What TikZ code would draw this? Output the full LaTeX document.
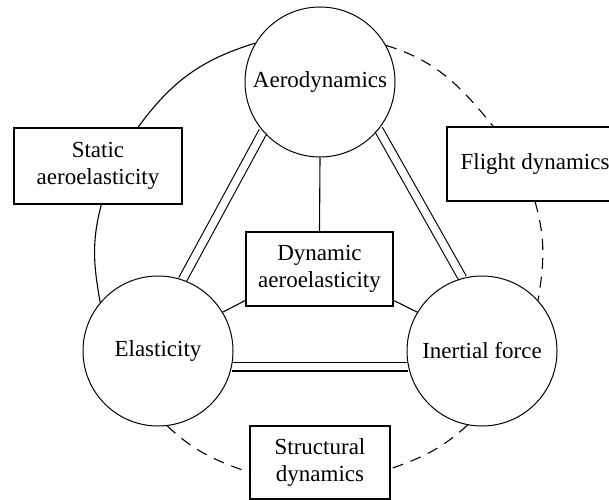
\documentclass[tikz,border=0pt]{standalone}
\usepackage{fontspec}
\setmainfont{Liberation Serif}
\usetikzlibrary{backgrounds}
\begin{document}
\begin{tikzpicture}[x=1pt,y=1pt,
  every node/.style={font=\fontsize{23}{27}\selectfont},
  ball/.style={circle, draw, line width=1pt, minimum size=150pt, inner sep=0pt},
  topic/.style={rectangle, draw, line width=1.1pt, align=center, inner sep=0pt},
  link/.style={line width=1.1pt},
  dlink/.style={line width=1.1pt, double, double distance=7.5pt},
  dashlink/.style={line width=1.1pt, dash pattern=on 11pt off 8pt}]
\useasboundingbox (0,0) rectangle (609,499);
\clip (0,0) rectangle (609,499);

\node[ball] (aero) at (320,417) {Aerodynamics};
\node[ball] (elast) at (158,148) {Elasticity};
\node[ball] (inert) at (482,148) {Inertial force};
\node[topic, minimum width=168pt, minimum height=76pt] (static) at (98,333) {Static\\aeroelasticity};
\node[topic, minimum width=176pt, minimum height=74pt] (flight) at (535,335) {Flight dynamics};
\node[topic, minimum width=147pt, minimum height=74pt] (dyn) at (319.5,230) {Dynamic\\aeroelasticity};
\node[topic, minimum width=140pt, minimum height=73pt] (struct) at (320,36.5) {Structural\\dynamics};

\begin{pgfonlayer}{background}
\draw[link] (aero.149) to[out=197,in=54] (static.44);
\draw[link] (static.275) to[out=255,in=100] (elast.140);
\draw[dashlink] (aero.29) to[out=-17,in=129] (flight.138);
\draw[dashlink] (flight.south) to[out=-74,in=81] (inert.42);
\draw[dashlink] (elast.277) to[out=317,in=161] (struct.188);
\draw[dashlink] (inert.259) to[out=222,in=19] (struct.355);
\draw[dlink] (aero.221) -- (elast.71);
\draw[dlink] (aero.321) -- (inert.105);
\draw[dlink] (elast.-12.6) -- (inert.192.6);
\draw[link] (aero.south) -- (dyn.north);
\draw[link] (dyn.203) -- (elast.31);
\draw[link] (dyn.337) -- (inert.149);
\end{pgfonlayer}
\end{tikzpicture}
\end{document}
